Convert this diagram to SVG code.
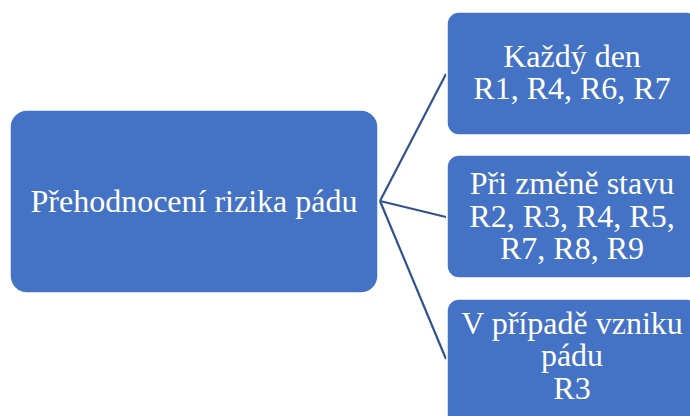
<svg xmlns="http://www.w3.org/2000/svg" width="690" height="416" viewBox="0 0 690 416">
<style>
.box{fill:#4472C4;stroke:#ffffff;stroke-width:1.5}
.t{font-family:'Liberation Serif','Times New Roman',serif;font-size:32px;fill:#ffffff;text-anchor:middle}
.c{stroke:#2F528F;stroke-width:2.2;fill:none}
</style>
<rect width="690" height="416" fill="#ffffff"/>
<g id="connectors">
<line class="c" x1="380" y1="201" x2="446" y2="74"/>
<line class="c" x1="380" y1="201" x2="446" y2="217"/>
<line class="c" x1="380" y1="201" x2="446" y2="359"/>
</g>
<g id="root">
<rect class="box" x="10" y="110" width="368" height="183" rx="17"/>
<text class="t" x="194" y="212">Přehodnocení rizika pádu</text>
</g>
<g id="n1">
<rect class="box" x="447" y="12" width="252" height="123" rx="12"/>
<text class="t" x="572" y="67">Každý den</text>
<text class="t" x="572" y="99">R1, R4, R6, R7</text>
</g>
<g id="n2">
<rect class="box" x="447" y="155" width="252" height="123" rx="12"/>
<text class="t" x="572" y="194">Při změně stavu</text>
<text class="t" x="572" y="227">R2, R3, R4, R5,</text>
<text class="t" x="572" y="259">R7, R8, R9</text>
</g>
<g id="n3">
<rect class="box" x="447" y="299" width="252" height="130" rx="12"/>
<text class="t" x="572" y="334">V případě vzniku</text>
<text class="t" x="572" y="366">pádu</text>
<text class="t" x="572" y="399">R3</text>
</g>
</svg>
